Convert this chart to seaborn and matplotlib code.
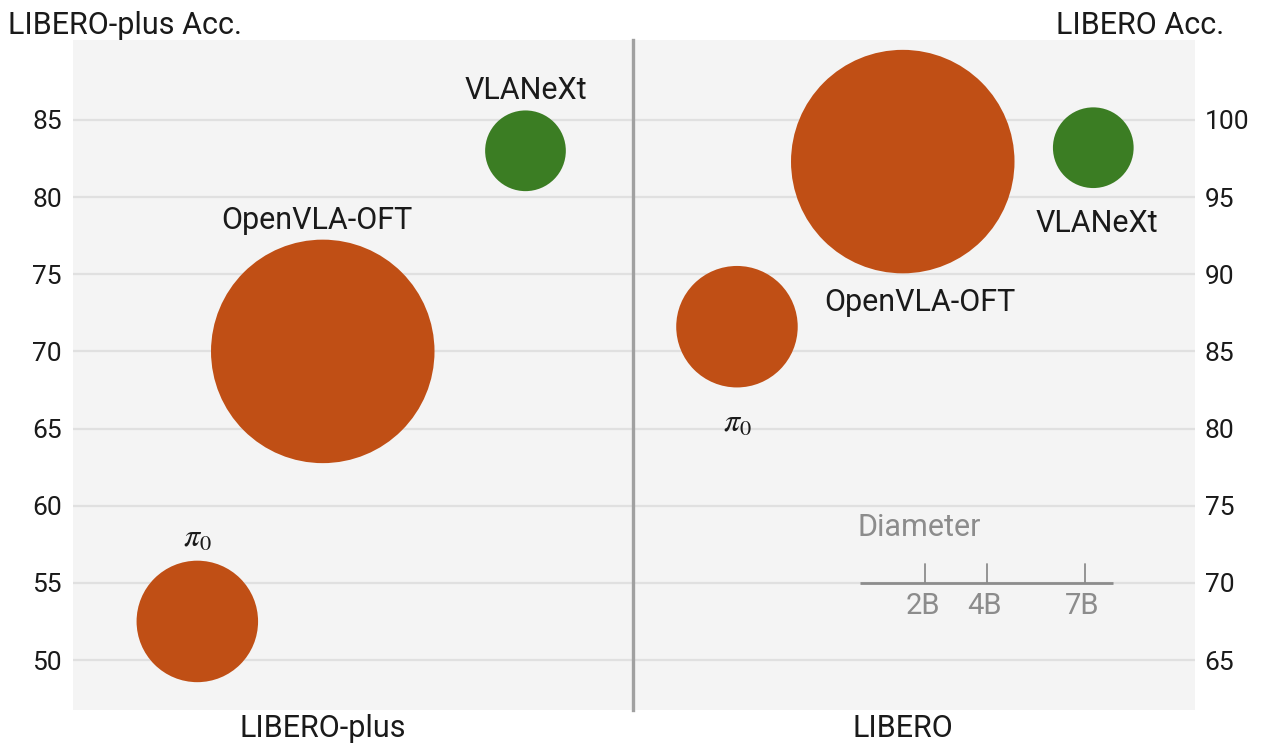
import pandas as pd
import matplotlib.pyplot as plt
import seaborn as sns

# --- data ---
models = ["π0", "OpenVLA-OFT", "VLANeXt"]
params_b = [3.0, 7.0, 1.4]  # model size in billions (bubble diameter)
colors = {"π0": "#C04F15", "OpenVLA-OFT": "#C04F15", "VLANeXt": "#3B7D23"}

plus_x = [0.222, 0.446, 0.808]
plus_acc = [52.5, 70.0, 83.0]

libero_x = [0.185, 0.480, 0.819]
libero_acc = [86.6, 97.3, 98.2]

plus_ticks = [50, 55, 60, 65, 70, 75, 80, 85]
libero_ticks = [65, 70, 75, 80, 85, 90, 95, 100]

legend_sizes = ["2B", "4B", "7B"]

DPI = 100


def size_pts(b):
    # diameter in pixels grows linearly with parameters, converted to points^2
    d_px = 45 + 25.5 * b
    return (d_px * 72 / DPI) ** 2


size_map = {m: size_pts(b) for m, b in zip(models, params_b)}

plus_df = pd.DataFrame({"model": models, "x": plus_x, "acc": plus_acc})
libero_df = pd.DataFrame({"model": models, "x": libero_x, "acc": libero_acc})

sns.set_theme(style="white")
plt.rcParams["font.family"] = ["Roboto", "DejaVu Sans"]
plt.rcParams["mathtext.fontset"] = "stix"

fig = plt.figure(figsize=(12.8, 7.55), dpi=DPI)
W, H = 1280, 755
bottom = (H - 710) / H
height = 670 / H
ax1 = fig.add_axes([73 / W, bottom, (633 - 73) / W, height])
ax2 = fig.add_axes([633 / W, bottom, (1195 - 633) / W, height])

bg = "#F4F4F4"
grid_c = "#E0E0E0"
text_c = "#1A1A1A"
FS = 22

for ax, df, ticks, lo in [(ax1, plus_df, plus_ticks, 46.76), (ax2, libero_df, libero_ticks, 61.76)]:
    ax.set_facecolor(bg)
    ax.set_xlim(0, 1)
    ax.set_ylim(lo, lo + 43.42)
    ax.set_yticks(ticks)
    ax.grid(axis="y", color=grid_c, lw=1.6)
    ax.set_axisbelow(True)
    for s in ax.spines.values():
        s.set_visible(False)
    sns.scatterplot(data=df, x="x", y="acc", hue="model", palette=colors,
                    size="model", sizes=size_map, legend=False, linewidth=0,
                    alpha=1, ax=ax, zorder=3)
    ax.set_xlabel("")
    ax.set_ylabel("")
    ax.tick_params(axis="y", length=0, labelsize=19, labelcolor=text_c)
    # panel name under the big bubble
    ax.set_xticks([df["x"][1]])
    ax.tick_params(axis="x", length=0, labelsize=FS, labelcolor=text_c, pad=3)

ax1.set_xticklabels(["LIBERO-plus"])
ax2.set_xticklabels(["LIBERO"])
ax1.tick_params(axis="y", pad=8)
ax2.yaxis.tick_right()
ax2.tick_params(axis="y", length=0, pad=7)

# divider between the two panels
ax1.set_zorder(3)
ax1.spines["right"].set_visible(True)
ax1.spines["right"].set_color("#A0A0A0")
ax1.spines["right"].set_linewidth(2.4)

# axis titles
fig.text(8 / W, 1 - 25 / H, "LIBERO-plus Acc.", fontsize=FS, color=text_c,
         ha="left", va="center")
fig.text(1224 / W, 1 - 25 / H, "LIBERO Acc.", fontsize=FS, color=text_c,
         ha="right", va="center")

# bubble labels
lab = dict(fontsize=FS, color=text_c, ha="center", va="center")
pi_lab = dict(fontsize=23, color=text_c, ha="center", va="center")
ax1.text(plus_x[0], plus_acc[0] + 5.4, r"$\pi_0$", **pi_lab)
ax1.text(plus_x[1] - 0.01, plus_acc[1] + 8.5, models[1], **lab)
ax1.text(plus_x[2], plus_acc[2] + 3.9, models[2], **lab)
ax2.text(libero_x[0], libero_acc[0] - 6.3, r"$\pi_0$", **pi_lab)
ax2.text(libero_x[1] + 0.03, libero_acc[1] - 9.1, models[1], **lab)
ax2.text(libero_x[2] + 0.007, libero_acc[2] - 4.9, models[2], **lab)

# diameter key
key_c = "#8C8C8C"
ax2.plot([0.404, 0.854], [70.0, 70.0], color=key_c, lw=2, solid_capstyle="butt")
for xf, t in zip([0.520, 0.630, 0.804], legend_sizes):
    ax2.plot([xf, xf], [70.0, 71.2], color=key_c, lw=1.3)
    ax2.text(xf - 0.004, 68.5, t, fontsize=FS - 1, color=key_c, ha="center", va="center")
ax2.text(0.400, 73.6, "Diameter", fontsize=FS, color=key_c, ha="left", va="center")

fig.savefig("out.png", dpi=DPI)
